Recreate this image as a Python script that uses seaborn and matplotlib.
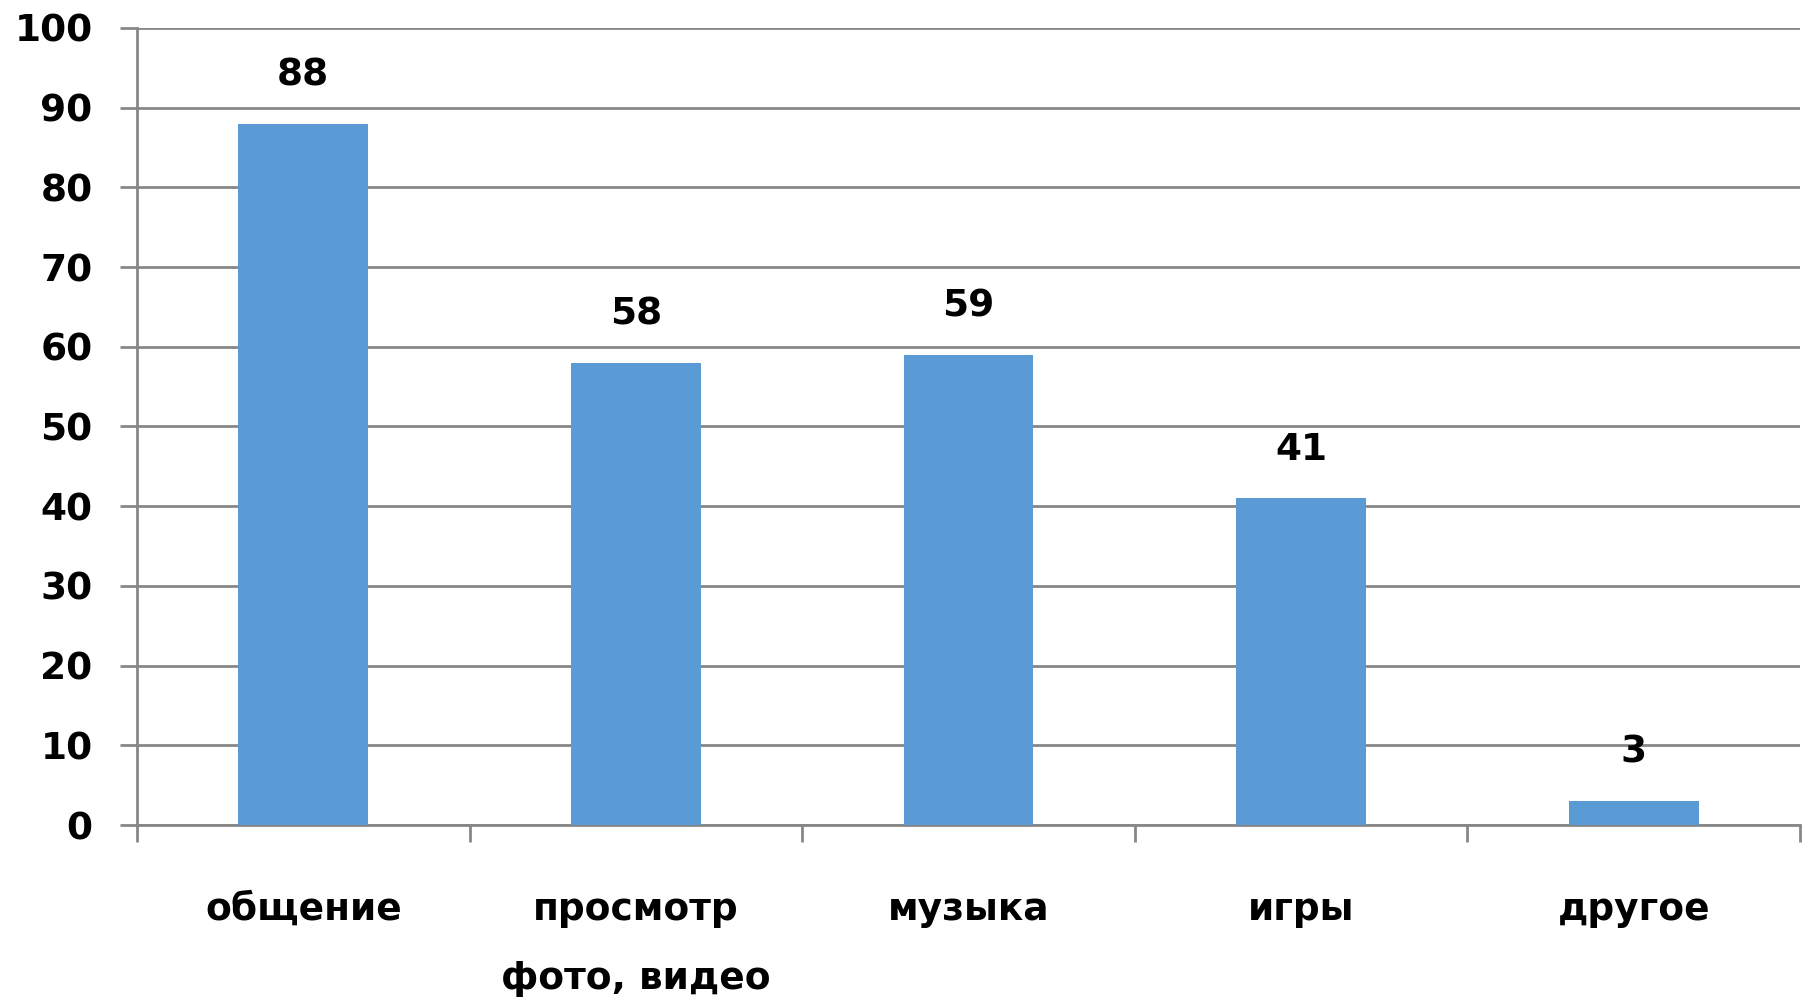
import numpy as np
import pandas as pd
import matplotlib
matplotlib.use('Agg')
import matplotlib.pyplot as plt
import seaborn as sns

# data
categories = ['общение', 'просмотр\nфото, видео', 'музыка', 'игры', 'другое']
values = [88, 58, 59, 41, 3]
y_ticks = list(range(0, 101, 10))

df = pd.DataFrame({'category': categories, 'value': values})

sns.set_style('white')
plt.rcParams['font.family'] = ['DejaVu Sans']
plt.rcParams['text.color'] = 'black'

grid_col = '#878787'

fig = plt.figure(figsize=(18.07, 10.01), dpi=100)
ax = fig.add_axes([137/1807, 1 - 825/1001, (1800 - 137)/1807, (825 - 28)/1001])

sns.barplot(data=df, x='category', y='value', color='#5B9BD5', saturation=1,
            width=0.39, linewidth=0, ax=ax, zorder=3)

ax.set_xlim(-0.5, 4.5)
ax.set_ylim(0, 100)
ax.set_yticks(y_ticks)
ax.set_xlabel('')
ax.set_ylabel('')

# grid and axes
ax.set_axisbelow(True)
ax.yaxis.grid(True, color=grid_col, linewidth=2)
for s in ['top', 'right']:
    ax.spines[s].set_visible(False)
for s in ['left', 'bottom']:
    ax.spines[s].set_color(grid_col)
    ax.spines[s].set_linewidth(2)

# category ticks between the bars
ax.set_xticks(np.arange(-0.5, 5, 1), minor=True)
ax.tick_params(axis='x', which='major', bottom=True, length=0, pad=48,
               labelsize=27, labelcolor='black')
ax.tick_params(axis='x', which='minor', bottom=True, length=12, width=2,
               color=grid_col, direction='out')
ax.tick_params(axis='y', left=True, length=12, width=2, color=grid_col,
               direction='out', pad=20, labelsize=27, labelcolor='black')
for lab in ax.get_xticklabels() + ax.get_yticklabels():
    lab.set_fontweight('bold')
    lab.set_linespacing(2.2)

ax.bar_label(ax.containers[0], padding=22, fontsize=27, fontweight='bold', color='black')

fig.savefig('out.png', dpi=100)
